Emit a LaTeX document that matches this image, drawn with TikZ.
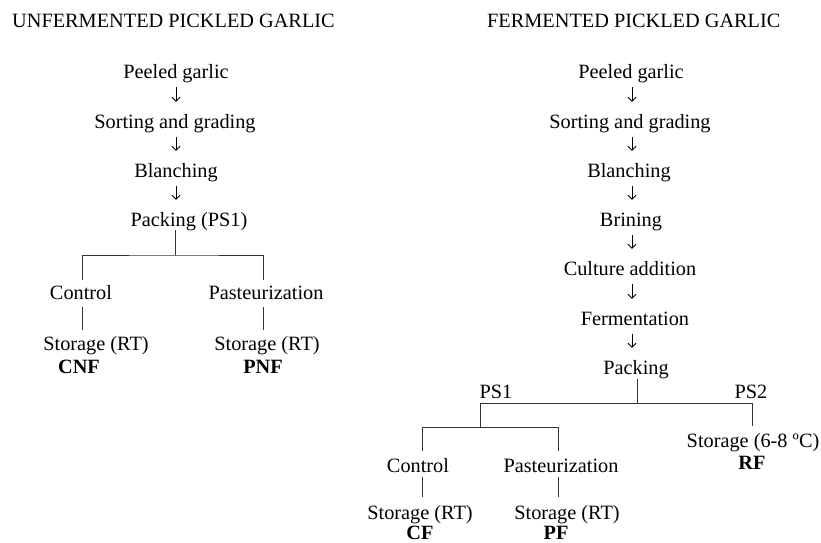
\documentclass[tikz,border=0pt]{standalone}
\usepackage{fontspec}
\setmainfont{Liberation Serif}
\usetikzlibrary{arrows.meta}
\tikzset{
  lbl/.style={anchor=base, inner sep=0pt, text height=14pt, text depth=0pt,
    font=\fontsize{20.3}{24}\selectfont},
  bold/.style={lbl, font=\fontsize{20.3}{24}\selectfont\bfseries},
  ttl/.style={anchor=base west, inner sep=0pt, font=\fontsize{20.3}{24}\selectfont},
  arr/.style={draw=black, line width=0.9pt, -{Straight Barb[length=4pt,width=8pt,line width=0.9pt]},
    shorten <=9pt, shorten >=12pt},
  tree/.style={draw=black!80, line width=0.8pt}
}
\begin{document}
\begin{tikzpicture}[x=1pt,y=-1pt]
\useasboundingbox (0,0) rectangle (821,542);
% ---------- left column ----------
\node[ttl] (t1) at (12,27) {UNFERMENTED PICKLED GARLIC};
\coordinate (xL) at (176,0);
\node[lbl] (peel1) at (176,78) {Peeled garlic};
\node[lbl] (sort1) at (175,128) {Sorting and grading};
\node[lbl] (blan1) at (176,177) {Blanching};
\node[lbl] (pack1) at (189,226) {Packing (PS1)};
\draw[arr] (peel1.south -| xL) -- (sort1.north -| xL);
\draw[arr] (sort1.south -| xL) -- (blan1.north -| xL);
\draw[arr] (blan1.south -| xL) -- (pack1.north -| xL);
\coordinate (j1) at (175,255);
\coordinate (d1L) at (82,280);
\coordinate (d1R) at (263,280);
\node[lbl] (ctl1) at (81,299) {Control};
\node[lbl] (pas1) at (266,299) {Pasteurization};
\node[lbl] (sto1a) at (96,350) {Storage (RT)};
\node[lbl] (sto1b) at (267,350) {Storage (RT)};
\node[bold] (cnf) at (79,373) {CNF};
\node[bold] (pnf) at (263,373) {PNF};
\draw[tree, shorten <=4pt] (pack1.south -| j1) -- (j1);
\draw[tree] (d1L) |- (j1) -| (d1R);
\draw[tree, shorten <=8pt, shorten >=6pt] (ctl1.south -| d1L) -- (sto1a.north -| d1L);
\draw[tree, shorten <=8pt, shorten >=6pt] (pas1.south -| d1R) -- (sto1b.north -| d1R);
% ---------- right column ----------
\node[ttl] (t2) at (487,27) {FERMENTED PICKLED GARLIC};
\coordinate (xR) at (632,0);
\node[lbl] (peel2) at (631,78) {Peeled garlic};
\node[lbl] (sort2) at (630,128) {Sorting and grading};
\node[lbl] (blan2) at (629,177) {Blanching};
\node[lbl] (brin) at (631,226) {Brining};
\node[lbl] (cult) at (630,275) {Culture addition};
\node[lbl] (ferm) at (635,325) {Fermentation};
\node[lbl] (pack2) at (636,374) {Packing};
\draw[arr] (peel2.south -| xR) -- (sort2.north -| xR);
\draw[arr] (sort2.south -| xR) -- (blan2.north -| xR);
\draw[arr] (blan2.south -| xR) -- (brin.north -| xR);
\draw[arr] (brin.south -| xR) -- (cult.north -| xR);
\draw[arr] (cult.south -| xR) -- (ferm.north -| xR);
\draw[arr] (ferm.south -| xR) -- (pack2.north -| xR);
\coordinate (j2) at (637,403);
\coordinate (j3) at (480,427);
\coordinate (e2) at (752,426);
\coordinate (d2L) at (422,451);
\coordinate (d2R) at (558,451);
\node[lbl] (ps1) at (496,398) {PS1};
\node[lbl] (ps2) at (751,398) {PS2};
\node[lbl] (sto3) at (753,447) {Storage (6-8 ºC)};
\node[bold] (rf) at (752,469) {RF};
\node[lbl] (ctl2) at (418,472) {Control};
\node[lbl] (pas2) at (561,472) {Pasteurization};
\node[lbl] (sto2a) at (420,519) {Storage (RT)};
\node[lbl] (sto2b) at (567,519) {Storage (RT)};
\node[bold] (cf) at (420,539) {CF};
\node[bold] (pf) at (556,539) {PF};
\draw[tree, shorten <=5pt] (pack2.south -| j2) -- (j2);
\draw[tree] (j3) |- (j2) -| (e2);
\draw[tree] (d2L) |- (j3) -| (d2R);
\draw[tree, shorten <=5pt, shorten >=8pt] (ctl2.south -| d2L) -- (sto2a.north -| d2L);
\draw[tree, shorten <=5pt, shorten >=8pt] (pas2.south -| d2R) -- (sto2b.north -| d2R);
\end{tikzpicture}
\end{document}
